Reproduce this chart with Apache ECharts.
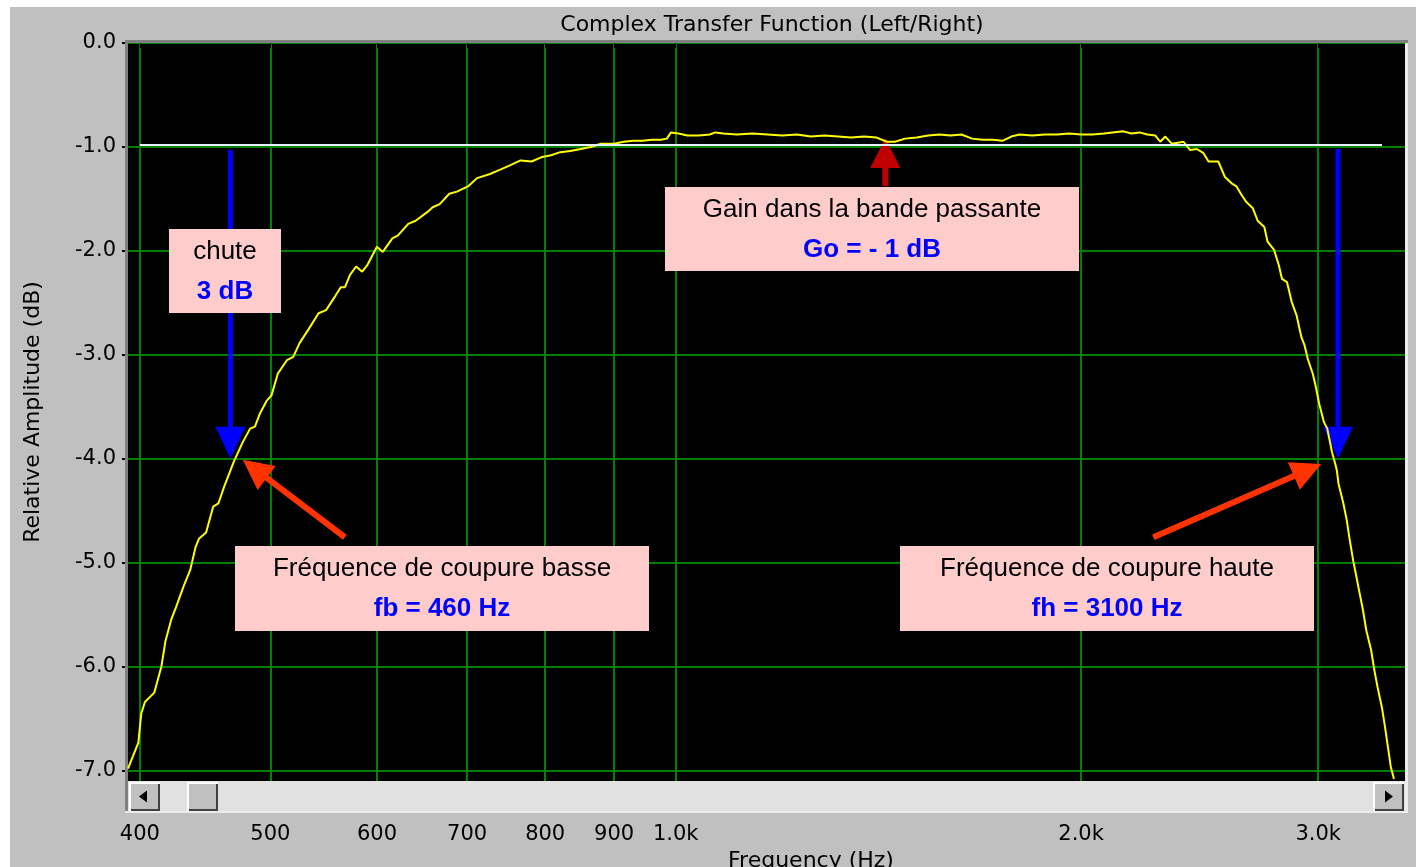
<!DOCTYPE html>
<html>
<head>
<meta charset="utf-8">
<title>Complex Transfer Function (Left/Right)</title>
<script src="https://cdn.jsdelivr.net/npm/echarts@6.0.0/dist/echarts.min.js"></script>
<style>
  html, body { margin: 0; padding: 0; background: #fff; }
  #chart { width: 1416px; height: 867px; }
</style>
</head>
<body>
<div id="chart"></div>
<script>
const freqHz = [
  392, 399, 401, 403.5, 410, 415, 418, 422, 425.5, 431, 436, 440, 442.5, 448, 453.5, 457.5, 462, 470, 477, 483,
  487, 491, 497, 501, 506.5, 514.5, 520, 525.5, 534, 543, 550, 559, 564, 568, 573, 579, 585, 590, 600, 606,
  616, 622, 633, 641, 653.5, 660, 668, 679, 688, 701, 712, 728, 740, 752.5, 767, 781.5, 794.5, 808, 821, 835,
  850, 865, 880, 900, 915, 930, 945, 960, 975, 985, 992, 1005, 1020, 1040, 1060, 1070, 1085, 1110, 1140, 1170,
  1200, 1230, 1260, 1290, 1320, 1350, 1380, 1410, 1435, 1455, 1480, 1510, 1540, 1570, 1600, 1630, 1660, 1690, 1720, 1750,
  1775, 1800, 1840, 1880, 1920, 1960, 2000, 2040, 2080, 2110, 2150, 2180, 2210, 2240, 2271, 2290, 2310, 2336, 2383, 2410,
  2438, 2466, 2487, 2529, 2558, 2587, 2609, 2631, 2653, 2683, 2705, 2736, 2751, 2782, 2805, 2820, 2844, 2867, 2891, 2915,
  2931, 2947, 2972, 2988, 3005, 3030, 3047, 3072, 3089, 3097, 3106, 3132, 3150, 3167, 3185, 3203, 3221, 3239, 3257, 3284,
  3303, 3321, 3345, 3363, 3377, 3396, 3415
];
const ampDb = [
  -6.98, -6.73, -6.45, -6.34, -6.25, -6.00, -5.75, -5.55, -5.43, -5.23, -5.07, -4.85, -4.77, -4.71, -4.46, -4.43, -4.27, -4.02, -3.84, -3.71,
  -3.69, -3.57, -3.44, -3.39, -3.18, -3.05, -3.02, -2.89, -2.75, -2.60, -2.57, -2.43, -2.35, -2.35, -2.23, -2.15, -2.20, -2.14, -1.96, -2.01,
  -1.88, -1.85, -1.74, -1.71, -1.63, -1.58, -1.55, -1.45, -1.43, -1.38, -1.30, -1.26, -1.22, -1.18, -1.13, -1.14, -1.10, -1.08, -1.05, -1.04,
  -1.02, -1.00, -0.97, -0.97, -0.95, -0.94, -0.94, -0.93, -0.93, -0.92, -0.86, -0.87, -0.89, -0.89, -0.88, -0.86, -0.87, -0.88, -0.87, -0.88,
  -0.89, -0.88, -0.90, -0.89, -0.90, -0.91, -0.90, -0.91, -0.95, -0.95, -0.92, -0.91, -0.89, -0.88, -0.89, -0.88, -0.92, -0.93, -0.93, -0.94,
  -0.90, -0.88, -0.89, -0.88, -0.88, -0.87, -0.88, -0.88, -0.87, -0.86, -0.85, -0.87, -0.86, -0.88, -0.89, -0.95, -0.90, -0.97, -0.95, -1.03,
  -1.02, -1.06, -1.14, -1.14, -1.29, -1.35, -1.38, -1.46, -1.53, -1.59, -1.71, -1.77, -1.91, -1.99, -2.14, -2.27, -2.30, -2.49, -2.62, -2.83,
  -2.91, -3.04, -3.18, -3.31, -3.47, -3.65, -3.71, -3.94, -4.05, -4.11, -4.24, -4.43, -4.59, -4.79, -4.98, -5.14, -5.30, -5.46, -5.65, -5.84,
  -6.04, -6.20, -6.39, -6.58, -6.74, -6.96, -7.08
];

const xTicks = [400, 500, 600, 700, 800, 900, 1000, 2000, 3000];
const xTickLabels = ['400', '500', '600', '700', '800', '900', '1.0k', '2.0k', '3.0k'];
const yTicks = [0, -1, -2, -3, -4, -5, -6, -7];

// passband gain reference line (Go)
const goDb = -0.975;
const goFrom = 400;
const goTo = 3346;

// arrows, anchored in data space [Hz, dB]
const arrows = [
  { from: [467, -1.03], to: [467, -4.0], color: '#0000ff', width: 5, headLen: 32, headW: 30 },
  { from: [3103, -1.02], to: [3103, -4.0], color: '#0000ff', width: 5, headLen: 32, headW: 30 },
  { from: [568, -4.755], to: [477, -4.01], color: '#ff3300', width: 6, headLen: 30, headW: 30 },
  { from: [2263, -4.755], to: [3016, -4.05], color: '#ff3300', width: 6, headLen: 30, headW: 30 },
  { from: [1431, -1.376], to: [1431, -0.914], color: '#c00000', width: 6, headLen: 30, headW: 30 }
];

// pink notes (pixel boxes)
const notes = [
  { x: 169, y: 229, w: 112, h: 84, title: 'chute', value: '3 dB' },
  { x: 665, y: 187, w: 414, h: 84, title: 'Gain dans la bande passante', value: 'Go = - 1 dB' },
  { x: 235, y: 546, w: 414, h: 85, title: 'Fréquence de coupure basse', value: 'fb = 460 Hz' },
  { x: 900, y: 546, w: 414, h: 85, title: 'Fréquence de coupure haute', value: 'fh = 3100 Hz' }
];

const axisFont = 'DejaVu Sans';

const chart = echarts.init(document.getElementById('chart'));

const option = {
  animation: false,
  backgroundColor: '#c0c0c0',
  title: {
    text: 'Complex Transfer Function (Left/Right)',
    left: 767,
    top: 9,
    textAlign: 'center',
    textStyle: { fontFamily: axisFont, fontSize: 22, fontWeight: 'normal', color: '#000' }
  },
  grid: {
    left: 128,
    top: 43,
    width: 1277,
    height: 738,
    outerBoundsMode: 'none',
    containLabel: false,
    show: true,
    backgroundColor: '#000',
    borderWidth: 0
  },
  xAxis: {
    type: 'log',
    logBase: 10,
    min: 392,
    max: 3480,
    offset: 32,
    name: 'Frequency (Hz)',
    nameLocation: 'middle',
    nameGap: 32,
    nameTextStyle: { fontFamily: axisFont, fontSize: 22, color: '#000', padding: [0, 0, 0, 89] },
    axisLine: { show: false },
    axisTick: { show: true, length: 5, customValues: xTicks, lineStyle: { color: '#000', width: 1 } },
    axisLabel: {
      customValues: xTicks,
      margin: 11,
      fontFamily: axisFont,
      fontSize: 21,
      color: '#000',
      formatter: function (v) {
        const i = xTicks.findIndex(t => Math.abs(t - v) < 1)
        return i >= 0 ? xTickLabels[i] : ''
      }
    },
    splitLine: { show: true, lineStyle: { color: '#008000', width: 2 } },
    minorTick: { show: false },
    minorSplitLine: { show: false }
  },
  yAxis: {
    type: 'value',
    min: -7.1,
    max: 0,
    name: 'Relative Amplitude (dB)',
    nameLocation: 'middle',
    nameGap: 84,
    nameTextStyle: { fontFamily: axisFont, fontSize: 22, color: '#000' },
    axisLine: { show: false },
    axisTick: { show: true, length: 6, customValues: yTicks, lineStyle: { color: '#000', width: 2 } },
    axisLabel: {
      customValues: yTicks,
      margin: 12,
      fontFamily: axisFont,
      fontSize: 21,
      color: '#000',
      formatter: v => v.toFixed(1)
    },
    splitLine: { show: true, lineStyle: { color: '#008000', width: 2 } }
  },
  series: [
    {
      type: 'line',
      name: 'Left/Right',
      data: freqHz.map((f, i) => [f, ampDb[i]]),
      symbol: 'none',
      showSymbol: false,
      lineStyle: { color: '#ffff00', width: 2 },
      z: 2,
      markLine: {
        silent: true,
        symbol: ['none', 'none'],
        label: { show: false },
        lineStyle: { color: '#e4f0ff', width: 2, type: 'solid' },
        data: [[{ coord: [goFrom, goDb] }, { coord: [goTo, goDb] }]]
      }
    }
  ]
}

chart.setOption(option)

function arrowParts (a) {
  const p0 = chart.convertToPixel({ gridIndex: 0 }, a.from)
  const p1 = chart.convertToPixel({ gridIndex: 0 }, a.to)
  const dx = p1[0] - p0[0]
  const dy = p1[1] - p0[1]
  const len = Math.sqrt(dx * dx + dy * dy)
  const ux = dx / len
  const uy = dy / len
  const bx = p1[0] - ux * a.headLen
  const by = p1[1] - uy * a.headLen
  const nx = -uy * a.headW / 2
  const ny = ux * a.headW / 2
  return [
    {
      type: 'line', z: 1, silent: true,
      shape: { x1: p0[0], y1: p0[1], x2: bx + ux * 2, y2: by + uy * 2 },
      style: { stroke: a.color, lineWidth: a.width }
    },
    {
      type: 'polygon', z: 1, silent: true,
      shape: { points: [[p1[0], p1[1]], [bx + nx, by + ny], [bx - nx, by - ny]] },
      style: { fill: a.color }
    }
  ]
}

function bevel (x, y, w, h) {
  return [
    { type: 'rect', z: 1, shape: { x: x, y: y, width: w, height: h }, style: { fill: '#c0c0c0' } },
    { type: 'polyline', z: 1, shape: { points: [[x + 1, y + h], [x + 1, y + 1], [x + w, y + 1]] }, style: { stroke: '#ffffff', lineWidth: 2, fill: null } },
    { type: 'polyline', z: 1, shape: { points: [[x + 2, y + h - 1], [x + w - 1, y + h - 1], [x + w - 1, y + 2]] }, style: { stroke: '#404040', lineWidth: 2, fill: null } }
  ]
}

const elements = [
  // white paper margins
  { type: 'rect', z: 0, shape: { x: 0, y: 0, width: 1416, height: 7 }, style: { fill: '#fff' } },
  { type: 'rect', z: 0, shape: { x: 0, y: 0, width: 10, height: 867 }, style: { fill: '#fff' } },
  // sunken frame around the plot
  { type: 'rect', z: 1, shape: { x: 125, y: 40, width: 1283, height: 3 }, style: { fill: '#808080' } },
  { type: 'rect', z: 1, shape: { x: 125, y: 40, width: 3, height: 773 }, style: { fill: '#808080' } },
  { type: 'rect', z: 1, shape: { x: 1405, y: 43, width: 3, height: 770 }, style: { fill: '#ececec' } },
  // scrollbar
  { type: 'rect', z: 1, shape: { x: 128, y: 781, width: 1277, height: 30 }, style: { fill: '#e1e1e1' } },
  { type: 'rect', z: 1, shape: { x: 125, y: 811, width: 1283, height: 2 }, style: { fill: '#ececec' } }
]
  .concat(bevel(129, 782, 31, 29))
  .concat(bevel(187, 782, 31, 29))
  .concat(bevel(1373, 782, 31, 29))
  .concat([
    { type: 'polygon', z: 1, shape: { points: [[139, 796.5], [147, 790.5], [147, 802.5]] }, style: { fill: '#000' } },
    { type: 'polygon', z: 1, shape: { points: [[1393, 796.5], [1385, 790.5], [1385, 802.5]] }, style: { fill: '#000' } }
  ])

arrows.forEach(a => { elements.push(...arrowParts(a)) })

notes.forEach(n => {
  const cx = n.x + n.w / 2
  elements.push(
    { type: 'rect', z: 5, shape: { x: n.x, y: n.y, width: n.w, height: n.h }, style: { fill: '#ffcccc' } },
    {
      type: 'text', z: 6,
      style: {
        text: n.title, x: cx, y: n.y + 23,
        align: 'center', verticalAlign: 'middle', textAlign: 'center', textVerticalAlign: 'middle',
        font: '26px "Liberation Sans", Arial, sans-serif', fill: '#000'
      }
    },
    {
      type: 'text', z: 6,
      style: {
        text: n.value, x: cx, y: n.y + 63,
        align: 'center', verticalAlign: 'middle', textAlign: 'center', textVerticalAlign: 'middle',
        font: 'bold 26px "Liberation Sans", Arial, sans-serif', fill: '#0000ff'
      }
    }
  )
})

chart.setOption({ graphic: { elements: elements } })
</script>
</body>
</html>
